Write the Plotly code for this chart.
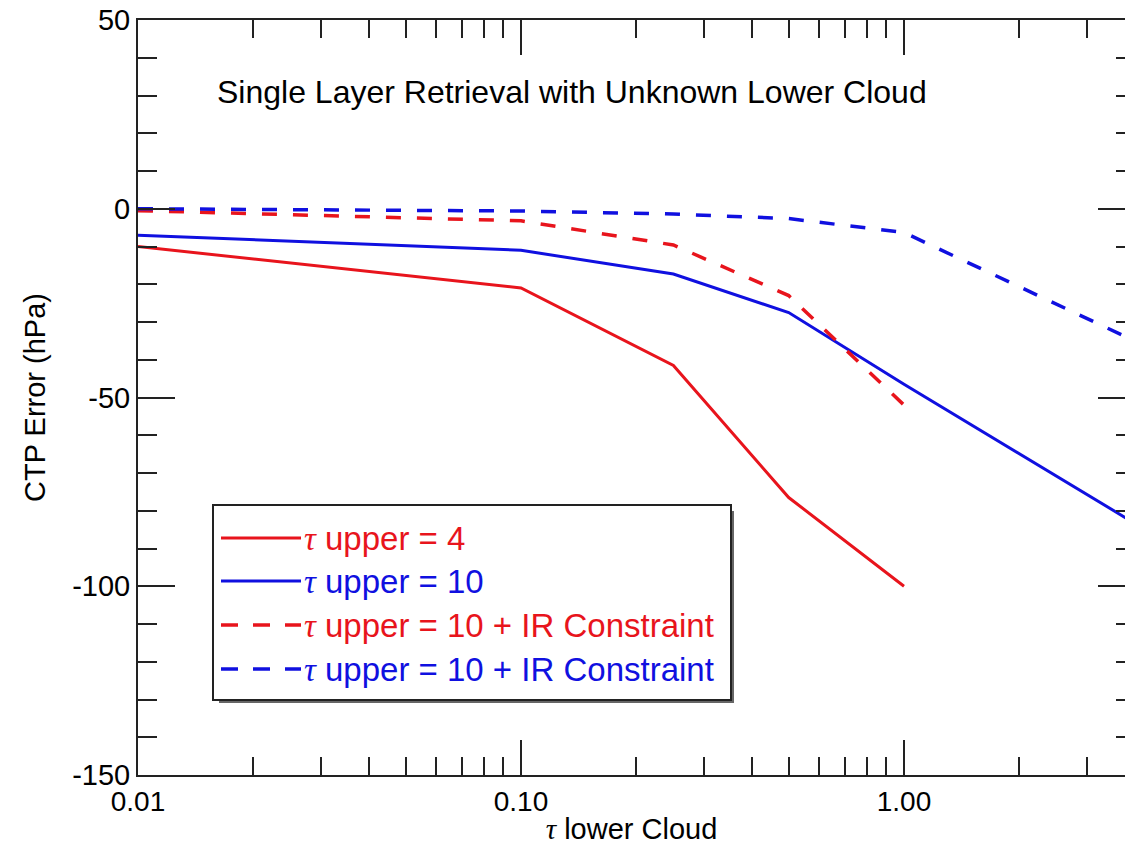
import numpy as np
import plotly.graph_objects as go

# ---- data -------------------------------------------------------------
tau_lower = [0.01, 0.10, 0.25, 0.50, 1.00]
tau_lower_ext = [0.01, 0.10, 0.25, 0.50, 1.00, 4.00]

err_upper4 = [-10.0, -21.0, -41.5, -76.5, -100.0]
err_upper10 = [-7.0, -11.0, -17.3, -27.5, -46.5, -83.3]
err_upper10_ir_red = [-0.5, -3.2, -9.6, -23.0, -52.0]
err_upper10_ir_blue = [0.0, -0.6, -1.4, -2.6, -6.3, -35.0]

x_tickvals = [0.01, 0.1, 1.0]
x_ticktext = ["0.01", "0.10", "1.00"]
x_minorvals = [0.02, 0.03, 0.04, 0.05, 0.06, 0.07, 0.08, 0.09,
               0.2, 0.3, 0.4, 0.5, 0.6, 0.7, 0.8, 0.9, 2.0, 3.0]
y_tickvals = [50, 0, -50, -100, -150]
y_ticktext = ["50", "0", "-50", "-100", "-150"]

labels = ["upper = 4", "upper = 10", "upper = 10 + IR Constraint",
          "upper = 10 + IR Constraint"]

RED = "#e8141c"
BLUE = "#1010e0"
AXIS = "#222222"
FONT = "Liberation Sans, Arial, Helvetica, sans-serif"
TAU = "<i><span style=\"font-family:Liberation Serif\">τ</span></i>"

# ---- figure geometry (pixels) ----------------------------------------
W, H = 1125, 845
ML, MT, MB, MR = 138, 20, 70, 0
PW, PH = W - ML - MR, H - MT - MB
DECADE_PX = 383.0
x_log_max = -2 + PW / DECADE_PX


def px_x(px):
    return (px - ML) / PW


def px_y(py):
    return (H - MB - py) / PH


fig = go.Figure()

series = [
    (tau_lower, err_upper4, RED, "solid", 3),
    (tau_lower_ext, err_upper10, BLUE, "solid", 3),
    (tau_lower, err_upper10_ir_red, RED, "15px,16px", 3.5),
    (tau_lower_ext, err_upper10_ir_blue, BLUE, "15px,16px", 3.5),
]
for (xs, ys, col, dash, lw), lab in zip(series, labels):
    fig.add_trace(go.Scatter(
        x=xs, y=ys, mode="lines", name=f"τ {lab}",
        line=dict(color=col, width=lw, dash=dash),
        showlegend=False,
    ))

# ---- axes --------------------------------------------------------------
fig.update_xaxes(
    type="log", range=[-2, x_log_max], automargin=False,
    tickmode="array", tickvals=x_tickvals, ticktext=x_ticktext,
    ticks="inside", ticklen=35, tickwidth=2, tickcolor=AXIS,
    showline=True, linecolor=AXIS, linewidth=2, mirror="allticks",
    showgrid=False, zeroline=False,
    tickfont=dict(family=FONT, size=28, color="#000"),
    title=dict(text=f"{TAU} lower Cloud", standoff=11,
               font=dict(family=FONT, size=29, color="#000")),
)
fig.update_yaxes(
    range=[-150, 50], automargin=False,
    tickmode="array", tickvals=y_tickvals, ticktext=y_ticktext,
    ticks="inside", ticklen=37, tickwidth=2, tickcolor=AXIS,
    minor=dict(dtick=10, ticks="inside", ticklen=19, tickwidth=2,
               tickcolor=AXIS, showgrid=False),
    showline=True, linecolor=AXIS, linewidth=2,
    showgrid=False, zeroline=False,
    tickfont=dict(family=FONT, size=29, color="#000"),
    title=dict(text="CTP Error (hPa)", standoff=18,
               font=dict(family=FONT, size=29, color="#000")),
)
fig.update_layout(
    # short log-axis ticks at the intermediate values, top and bottom
    xaxis2=dict(
        overlaying="x", type="log", range=[-2, x_log_max],
        automargin=False,
        tickmode="array", tickvals=x_minorvals,
        ticks="inside", ticklen=18, tickwidth=2, tickcolor=AXIS,
        mirror="allticks", showline=False, showticklabels=False,
        showgrid=False, zeroline=False,
    ),
    # right-hand tick marks
    yaxis2=dict(
        overlaying="y", side="right", range=[-150, 50],
        automargin=False,
        tickmode="array", tickvals=y_tickvals,
        ticks="inside", ticklen=27, tickwidth=2, tickcolor=AXIS,
        minor=dict(dtick=10, ticks="inside", ticklen=9, tickwidth=2,
                   tickcolor=AXIS, showgrid=False),
        showticklabels=False, showline=False, showgrid=False,
        zeroline=False,
    ),
)
fig.add_trace(go.Scatter(x=[], y=[], xaxis="x2", yaxis="y2",
                         showlegend=False, hoverinfo="skip"))

# ---- in-plot title -----------------------------------------------------
fig.add_annotation(
    text="Single Layer Retrieval with Unknown Lower Cloud",
    xref="paper", yref="paper", x=px_x(572), y=px_y(92),
    showarrow=False, xanchor="center", yanchor="middle",
    font=dict(family=FONT, size=32, color="#000"),
)

# ---- legend box with drop shadow ---------------------------------------
box = (213, 505, 731, 700)
fig.add_shape(type="rect", xref="paper", yref="paper", layer="above",
              x0=px_x(box[0] + 6), x1=px_x(box[2] + 3),
              y0=px_y(box[1] + 6), y1=px_y(box[3] + 3),
              line=dict(width=0), fillcolor="#666666")
fig.add_shape(type="rect", xref="paper", yref="paper", layer="above",
              x0=px_x(box[0]), x1=px_x(box[2]),
              y0=px_y(box[1]), y1=px_y(box[3]),
              line=dict(color=AXIS, width=2), fillcolor="white")

rows = [538, 581, 625, 669]
for (xs, ys, col, dash, lw), lab, ry in zip(series, labels, rows):
    sdash = "solid" if dash == "solid" else "17px,15px"
    fig.add_shape(type="line", xref="paper", yref="paper", layer="above",
                  x0=px_x(221), x1=px_x(301), y0=px_y(ry), y1=px_y(ry),
                  line=dict(color=col, width=lw, dash=sdash))
    fig.add_annotation(
        text=f"{TAU} {lab}", xref="paper", yref="paper",
        x=px_x(302), y=px_y(ry), xanchor="left", yanchor="middle",
        showarrow=False, font=dict(family=FONT, size=33, color=col),
    )

fig.update_layout(
    width=W, height=H,
    margin=dict(l=ML, r=MR, t=MT, b=MB, pad=0),
    paper_bgcolor="white", plot_bgcolor="white",
    showlegend=False,
)

fig.write_html("out.html")
